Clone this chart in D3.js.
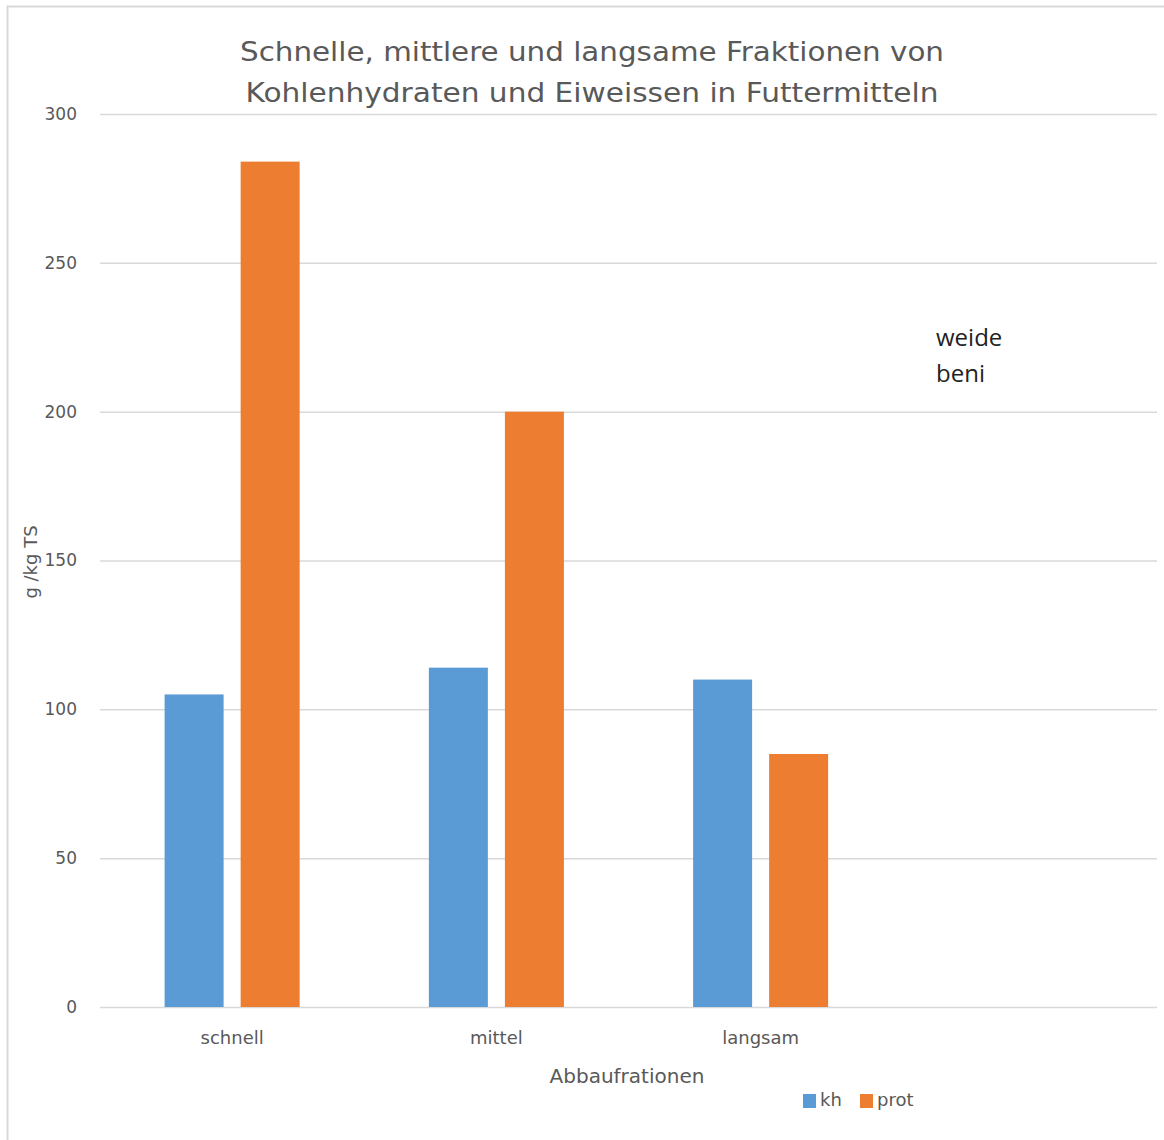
<!DOCTYPE html>
<html>
<head>
<meta charset="utf-8">
<script src="https://cdn.jsdelivr.net/npm/d3@7"></script>
<style>
  html, body { margin: 0; padding: 0; background: #fff; }
  svg { display: block; }
  text { font-family: "DejaVu Sans", "Open Sans", sans-serif; }
</style>
</head>
<body>
<svg id="chart" width="1164" height="1140"></svg>
<script>
// Categories (the fourth slot is an empty category on the axis)
const categories = ["schnell", "mittel", "langsam", ""];
const seriesNames = ["kh", "prot"];
const khValues = [105, 114, 110, null];
const protValues = [284, 200, 85, null];
const yTicks = [0, 50, 100, 150, 200, 250, 300];
const titleLines = [
  "Schnelle, mittlere und langsame Fraktionen von",
  "Kohlenhydraten und Eiweissen in Futtermitteln"
];
const yTitle = "g /kg TS";
const xTitle = "Abbaufrationen";
const noteLines = ["weide", "beni"];

const colors = { kh: "#5B9BD5", prot: "#ED7D31" };

const svg = d3.select("#chart");
const W = 1164, H = 1140;
const plot = { left: 100, right: 1157, top: 114, bottom: 1007 };

// Chart frame
svg.append("rect")
  .attr("x", 7.5).attr("y", 6.5)
  .attr("width", W + 20).attr("height", H + 20)
  .attr("fill", "#fff").attr("stroke", "#D9D9D9").attr("stroke-width", 2);

const rows = categories.map((c, i) => ({ cat: c, kh: khValues[i], prot: protValues[i] }));

const x0 = d3.scaleBand()
  .domain(categories)
  .range([plot.left, plot.right])
  .paddingInner(0.489)
  .paddingOuter(0.2445);

const x1 = d3.scaleBand()
  .domain(seriesNames)
  .range([0, x0.bandwidth()])
  .paddingInner(0.224);

const y = d3.scaleLinear().domain([0, 300]).range([plot.bottom, plot.top]);

// Gridlines and y labels
const yAxis = d3.axisLeft(y).tickValues(yTicks).tickSize(-(plot.right - plot.left)).tickPadding(23);
const gy = svg.append("g").attr("transform", `translate(${plot.left},0)`).call(yAxis);
gy.select(".domain").remove();
gy.selectAll(".tick line").attr("stroke", "#D9D9D9").attr("stroke-width", 1.5);
gy.selectAll(".tick text")
  .attr("fill", "#595959")
  .style("font-family", "'DejaVu Sans', sans-serif")
  .style("font-size", "17px");

// Bars
const groups = svg.append("g").selectAll("g")
  .data(rows)
  .join("g")
  .attr("transform", d => `translate(${x0(d.cat)},0)`);

groups.selectAll("rect")
  .data(d => seriesNames.filter(s => d[s] != null).map(s => ({ key: s, value: d[s] })))
  .join("rect")
  .attr("x", d => x1(d.key))
  .attr("width", x1.bandwidth())
  .attr("y", d => y(d.value))
  .attr("height", d => y(0) - y(d.value))
  .attr("fill", d => colors[d.key]);

// Category labels
const xAxis = d3.axisBottom(x0).tickSize(0).tickPadding(24);
const gx = svg.append("g").attr("transform", `translate(0,${plot.bottom})`).call(xAxis);
gx.select(".domain").remove();
gx.selectAll(".tick text")
  .attr("fill", "#595959")
  .style("font-family", "'DejaVu Sans', sans-serif")
  .style("font-size", "18px");

// Title
svg.append("g").selectAll("text")
  .data(titleLines)
  .join("text")
  .attr("x", 592)
  .attr("y", (d, i) => 61 + i * 41)
  .attr("text-anchor", "middle")
  .attr("fill", "#595959")
  .attr("textLength", (d, i) => i === 0 ? 704 : 693)
  .attr("lengthAdjust", "spacingAndGlyphs")
  .style("font-family", "'DejaVu Sans', sans-serif")
  .style("font-size", "26px")
  .text(d => d);

// Axis titles
svg.append("text")
  .attr("transform", "translate(37,562) rotate(-90)")
  .attr("text-anchor", "middle")
  .attr("fill", "#595959")
  .style("font-size", "18px")
  .text(yTitle);

svg.append("text")
  .attr("x", 627).attr("y", 1083)
  .attr("text-anchor", "middle")
  .attr("fill", "#595959")
  .style("font-size", "20px")
  .text(xTitle);

// Free text note
svg.append("g").selectAll("text")
  .data(noteLines)
  .join("text")
  .attr("x", 936)
  .attr("y", (d, i) => 346 + i * 36)
  .attr("fill", "#222")
  .style("font-family", "'Open Sans', sans-serif")
  .style("font-size", "24px")
  .text(d => d);

// Legend
const legendItems = [
  { key: "kh", x: 803, tx: 820 },
  { key: "prot", x: 860, tx: 877 }
];
const lg = svg.append("g");
lg.selectAll("rect")
  .data(legendItems)
  .join("rect")
  .attr("x", d => d.x).attr("y", 1094)
  .attr("width", 13).attr("height", 14)
  .attr("fill", d => colors[d.key]);
lg.selectAll("text")
  .data(legendItems)
  .join("text")
  .attr("x", d => d.tx).attr("y", 1106)
  .attr("fill", "#595959")
  .style("font-size", "18px")
  .text(d => d.key);
</script>
</body>
</html>
